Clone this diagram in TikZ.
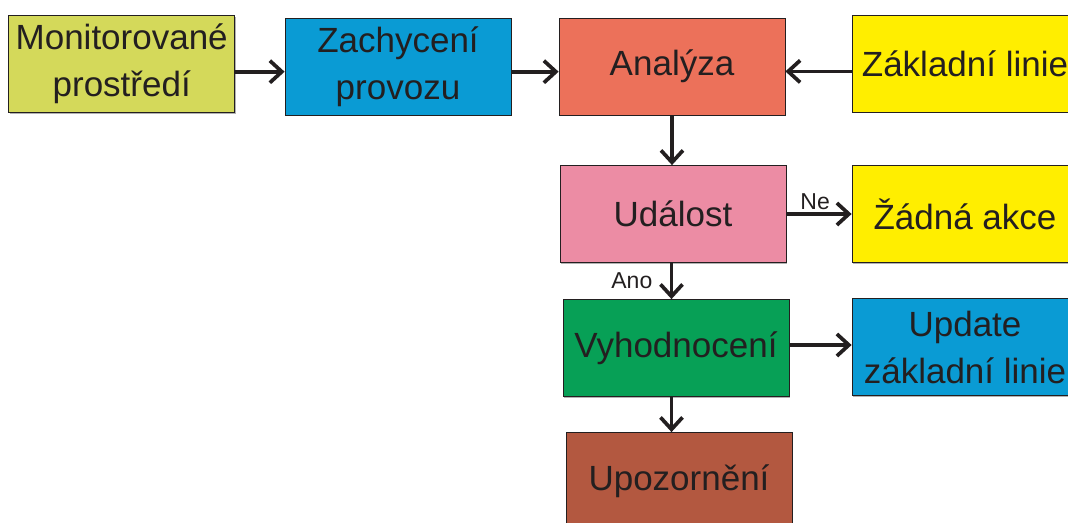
\documentclass[tikz,border=0pt]{standalone}
\usepackage{fontspec}
\setmainfont{Liberation Sans}
\usetikzlibrary{arrows.meta,calc,shadows}
\definecolor{ink}{HTML}{231F20}
\definecolor{cmon}{HTML}{D4D95A}
\definecolor{cblue}{HTML}{0A9BD4}
\definecolor{csalmon}{HTML}{EC715A}
\definecolor{cyellow}{HTML}{FFEE00}
\definecolor{cpink}{HTML}{EC8CA4}
\definecolor{cgreen}{HTML}{07A056}
\definecolor{cbrown}{HTML}{B35840}
\begin{document}
\begin{tikzpicture}[x=1pt,y=-1pt,
  box/.style={draw=ink, line width=0.8pt, minimum width=226pt, minimum height=97pt,
    inner sep=0pt, align=center, text=ink, font=\fontsize{35}{47}\selectfont,
    drop shadow={shadow xshift=1.4pt, shadow yshift=-1.4pt, fill=black!30, opacity=1}},
  flow/.style={draw=ink, line width=3.7pt, -{Straight Barb[length=12pt,width=22pt]}},
  lbl/.style={text=ink, inner sep=0pt, font=\fontsize{23}{27}\selectfont}]
\useasboundingbox (0,0) rectangle (1068,522);

% top row
\node[box, fill=cmon]    (mon)  at (121.7,64)   {Monitorované\\prostředí};
\node[box, fill=cblue]   (zach) at (398,66.5)   {Zachycení\\provozu};
\node[box, fill=csalmon] (ana)  at (672,66.5)   {Analýza};
\node[box, fill=cyellow] (zak)  at (965,63.5)   {Základní linie};

% decision column
\node[box, fill=cpink]   (udal) at (673,214)    {Událost};
\node[box, fill=cyellow] (zad)  at (965,214)    {Žádná akce};
\node[box, fill=cgreen]  (vyh)  at (676,348)    {Vyhodnocení};
\node[box, fill=cblue]   (upd)  at (965,347)    {Update\\základní linie};
\node[box, fill=cbrown]  (upo)  at (679,481)    {Upozornění};

% connectors
\draw[flow] ([yshift=-7.7pt]mon.east) -- ([yshift=-7.7pt]mon.east -| zach.west);
\draw[flow] ([yshift=-5.2pt]zach.east) -- ([yshift=-5.2pt]zach.east -| ana.west);
\draw[flow] ([yshift=-7.9pt]zak.west) -- ([yshift=-7.9pt]zak.west -| ana.east);
\draw[flow] (ana.south) -- (ana.south |- udal.north);
\draw[flow] (udal.east) -- (udal.east -| zad.west)
  node[lbl, pos=0.44, anchor=south, yshift=2.8pt] (ne) {Ne};
\draw[flow] ([xshift=-1.5pt]udal.south) -- ([xshift=-1.5pt]udal.south |- vyh.north);
\node[lbl, anchor=base east] (ano) at ($(udal.south)+(-20.5,26)$) {Ano};
\draw[flow] ([yshift=3pt]vyh.east) -- ([yshift=3pt]vyh.east -| upd.west);
\draw[flow] ([xshift=-4.5pt]vyh.south) -- ([xshift=-4.5pt]vyh.south |- upo.north);
\end{tikzpicture}
\end{document}
